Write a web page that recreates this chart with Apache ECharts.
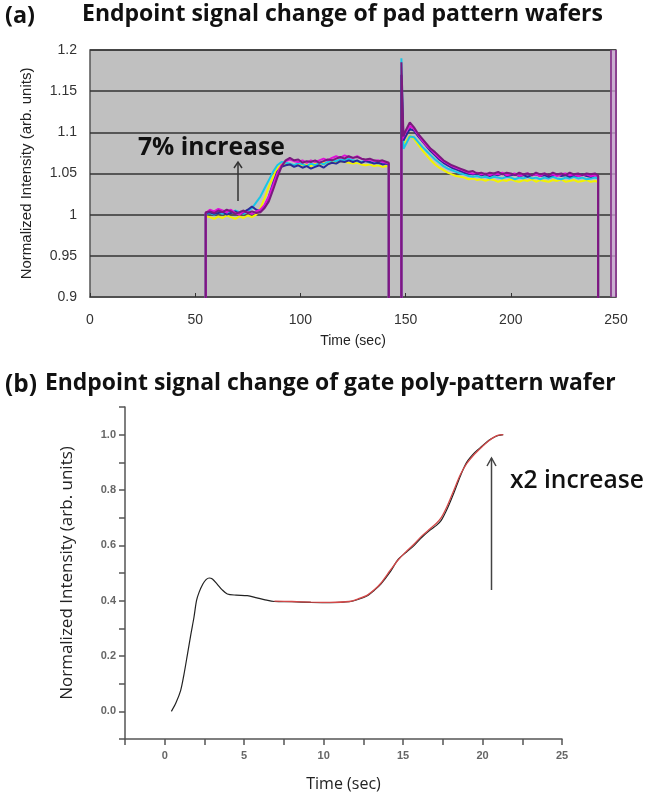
<!DOCTYPE html>
<html><head><meta charset="utf-8">
<script src="https://cdn.jsdelivr.net/npm/echarts@6/dist/echarts.min.js"></script>
<style>html,body{margin:0;padding:0;background:#fff;}#c{width:648px;height:801px;}</style>
</head><body><div id="c"></div>
<script>
// ---------- Panel (a) data ----------
const timeA = [55,55,57,59,61,63,65,67,69,71,73,75,77,79,81,83,85,87,89,91,93,
  95,97,99,101,103,105,107,109,111,113,115,117,119,121,123,125,127,129,131,133,135,137,139,141,
  142,142,148,148,149,
  150,152,154,156,158,160,162,164,166,168,170,172,174,176,178,180,182,184,186,188,190,192,194,196,198,
  200,202,204,206,208,210,212,214,216,218,220,222,224,226,228,230,232,234,236,238,240,241.5,241.5];

const yellowA = [0.85,0.998,0.997,0.995,0.998,0.996,0.999,0.997,0.995,0.998,0.996,0.999,0.997,1.000,
  1.008,1.020,1.034,1.046,1.056,1.061,1.062,
  1.061,1.059,1.062,1.060,1.061,1.059,1.062,1.060,1.063,1.062,1.064,1.063,1.065,1.064,1.063,1.062,1.063,1.061,1.060,1.061,1.059,1.060,1.058,1.059,
  1.058,0.85,0.85,1.13,1.085,
  1.088,1.096,1.092,1.085,1.078,1.072,1.066,1.061,1.057,1.054,1.051,1.049,1.047,1.046,1.045,1.043,1.044,1.042,1.043,1.041,1.043,1.042,1.040,1.042,1.041,
  1.043,1.041,1.040,1.042,1.041,1.043,1.040,1.042,1.041,1.040,1.042,1.041,1.043,1.040,1.041,1.042,1.040,1.041,1.042,1.040,1.041,1.040,0.85];

const cyanA = [0.85,1.001,1.002,1.000,1.003,1.001,1.004,1.002,1.005,1.003,1.001,1.004,1.008,1.015,
  1.022,1.032,1.042,1.052,1.060,1.064,1.063,
  1.062,1.060,1.063,1.061,1.059,1.062,1.060,1.063,1.061,1.064,1.066,1.065,1.067,1.066,1.068,1.066,1.065,1.064,1.066,1.063,1.064,1.062,1.063,1.062,
  1.060,0.85,0.85,1.19,1.08,
  1.085,1.095,1.094,1.088,1.082,1.077,1.072,1.067,1.063,1.059,1.056,1.054,1.052,1.050,1.049,1.047,1.046,1.047,1.045,1.046,1.044,1.046,1.045,1.044,1.046,
  1.045,1.043,1.045,1.044,1.046,1.044,1.045,1.043,1.045,1.044,1.046,1.044,1.043,1.045,1.044,1.046,1.044,1.045,1.043,1.044,1.045,1.044,0.85];

const navyA = [0.85,1.002,1.003,1.001,1.002,1.004,1.000,1.002,1.004,1.001,1.003,1.006,1.010,1.006,
  1.004,1.010,1.022,1.038,1.052,1.058,1.060,
  1.061,1.058,1.060,1.057,1.059,1.056,1.058,1.060,1.057,1.061,1.063,1.062,1.065,1.064,1.066,1.064,1.066,1.063,1.065,1.064,1.062,1.063,1.061,1.062,
  1.061,0.85,0.85,1.17,1.09,
  1.095,1.104,1.102,1.095,1.089,1.083,1.077,1.072,1.067,1.063,1.060,1.057,1.055,1.053,1.051,1.050,1.049,1.050,1.048,1.049,1.047,1.049,1.048,1.050,1.047,
  1.048,1.049,1.047,1.048,1.046,1.048,1.049,1.047,1.048,1.046,1.048,1.049,1.047,1.048,1.046,1.048,1.047,1.049,1.047,1.046,1.048,1.047,0.85];

const magentaA = [0.85,1.002,1.006,1.004,1.007,1.005,1.003,1.006,1.002,1.000,1.004,1.003,1.001,1.004,
  1.006,1.012,1.022,1.036,1.050,1.060,1.065,
  1.067,1.065,1.064,1.066,1.063,1.066,1.064,1.066,1.068,1.066,1.069,1.071,1.069,1.072,1.070,1.069,1.071,1.068,1.066,1.067,1.065,1.066,1.064,1.063,
  1.062,0.85,0.85,1.09,1.095,
  1.100,1.108,1.104,1.097,1.090,1.084,1.079,1.074,1.069,1.065,1.062,1.059,1.057,1.055,1.053,1.051,1.050,1.051,1.049,1.050,1.048,1.050,1.049,1.051,1.048,
  1.049,1.050,1.047,1.049,1.050,1.048,1.049,1.047,1.050,1.048,1.049,1.047,1.049,1.050,1.048,1.049,1.047,1.048,1.049,1.047,1.048,1.047,0.85];

const purpleA = [0.85,1.003,1.004,1.002,1.005,1.003,1.006,1.004,1.001,1.003,1.005,1.002,1.004,1.002,
  1.003,1.008,1.016,1.030,1.045,1.058,1.066,
  1.069,1.066,1.067,1.063,1.065,1.064,1.066,1.063,1.065,1.067,1.066,1.068,1.070,1.068,1.071,1.069,1.070,1.068,1.067,1.068,1.066,1.065,1.066,1.064,
  1.063,0.85,0.85,1.185,1.095,
  1.102,1.112,1.106,1.098,1.092,1.086,1.080,1.076,1.071,1.066,1.063,1.060,1.058,1.056,1.054,1.052,1.053,1.050,1.051,1.049,1.051,1.050,1.052,1.049,1.051,
  1.050,1.048,1.051,1.049,1.050,1.048,1.051,1.049,1.050,1.048,1.051,1.049,1.050,1.048,1.051,1.049,1.050,1.048,1.050,1.049,1.050,1.048,0.85];

const endBandA = [247.5, 250];

// ---------- Panel (b) data ----------
const timeBlack = [0.42,0.7,1.0,1.2,1.43,1.65,1.84,2.0,2.16,2.4,2.6,2.8,3.0,3.3,3.6,3.94,4.5,5.2,5.8,6.25,6.9,8,9.2,10.4,11.6,12.2,12.75,13.2,13.6,14.2,14.7,15.2,15.7,16.2,16.7,17.1,17.4,17.8,18.2,18.6,19.0,19.5,20.0,20.4,20.7,21.0,21.3];
const valBlack  = [0.0,0.03,0.075,0.13,0.206,0.28,0.34,0.40,0.43,0.46,0.476,0.482,0.478,0.46,0.44,0.424,0.42,0.418,0.41,0.404,0.397,0.396,0.394,0.393,0.396,0.405,0.418,0.438,0.46,0.505,0.55,0.575,0.60,0.63,0.655,0.672,0.69,0.735,0.79,0.85,0.90,0.935,0.96,0.98,0.99,0.997,1.0];
const timeRed = [6.9,8,9.2,10.4,11.6,12.2,12.75,13.2,13.6,14.2,14.7,15.2,15.7,16.2,16.7,17.1,17.4,17.8,18.2,18.6,19.0,19.5,20.0,20.4,20.7,21.0,21.3];
const valRed  = [0.398,0.397,0.395,0.394,0.397,0.407,0.42,0.44,0.463,0.51,0.548,0.578,0.605,0.635,0.66,0.68,0.70,0.745,0.80,0.855,0.895,0.93,0.958,0.978,0.99,0.998,1.0];

const titleA = 'Endpoint signal change of pad pattern wafers';
const titleB = 'Endpoint signal change of gate poly-pattern wafer';
const noteA = '7% increase';
const noteB = 'x2 increase';
const yName = 'Normalized Intensity (arb. units)';
const xName = 'Time (sec)';

function zip(xs, ys){ return xs.map((x,i)=>[x, ys[i]]); }
function fit(text, weight, family, target){
  const ctx = document.createElement('canvas').getContext('2d');
  ctx.font = weight + ' 100px ' + family;
  return 100 * target / ctx.measureText(text).width;
}
const TF = '"Open Sans", sans-serif';

const chart = echarts.init(document.getElementById('c'), null, {renderer:'canvas'});

function lineA(name, data, color, extra){
  return Object.assign({
    name, type:'line', xAxisIndex:0, yAxisIndex:0, data: zip(timeA, data),
    showSymbol:false, symbol:'none', lineStyle:{color, width:2}, itemStyle:{color},
    clip:true, animation:false, z:3
  }, extra||{});
}

const option = {
  animation:false,
  backgroundColor:'#ffffff',
  grid:[
    {left:90, top:50, width:526, height:247, show:true, backgroundColor:'#c0c0c0', borderColor:'#555', borderWidth:1.5},
    {left:125, top:407, width:437, height:332, show:false}
  ],
  xAxis:[
    {gridIndex:0, type:'value', min:0, max:250, interval:50,
     axisLine:{show:true, lineStyle:{color:'#555', width:1.5}},
     axisTick:{show:true, inside:true, length:4, lineStyle:{color:'#333'}},
     splitLine:{show:false},
     axisLabel:{color:'#333', fontSize:14, fontFamily:'"Liberation Sans", Arial', margin:16},
     name:xName, nameLocation:'middle', nameGap:37,
     nameTextStyle:{color:'#222', fontSize:14, fontFamily:'"Liberation Sans", Arial'}},
    {gridIndex:1, type:'value', min:-2.5, max:25, interval:2.5,
     axisLine:{show:true, onZero:false, lineStyle:{color:'#555', width:1.5}},
     axisTick:{show:true, inside:false, length:6, lineStyle:{color:'#555', width:1.5}},
     splitLine:{show:false},
     axisLabel:{color:'#666', fontSize:11, fontWeight:'bold', fontFamily:'"Liberation Sans", Arial', margin:11,
       formatter:v=>{ const r=Math.round(v*10)/10; return (r>=0 && Math.abs(r%5)<1e-6) ? String(Math.round(r)) : ''; }},
     name:xName, nameLocation:'middle', nameGap:37,
     nameTextStyle:{color:'#222', fontSize:16, fontFamily:'"Open Sans", sans-serif'}}
  ],
  yAxis:[
    {gridIndex:0, type:'value', min:0.9, max:1.2, interval:0.05,
     axisLine:{show:false}, axisTick:{show:false},
     splitLine:{show:true, lineStyle:{color:'#333', width:1.5}},
     axisLabel:{color:'#333', fontSize:14, fontFamily:'"Liberation Sans", Arial', margin:13},
     name:yName, nameLocation:'middle', nameGap:56,
     nameTextStyle:{color:'#222', fontSize:15, fontFamily:'"Liberation Sans", Arial'}},
    {gridIndex:1, type:'value', min:-0.1, max:1.1, interval:0.1,
     axisLine:{show:true, onZero:false, lineStyle:{color:'#555', width:1.5}},
     axisTick:{show:true, inside:false, length:6, lineStyle:{color:'#555', width:1.5}},
     splitLine:{show:false},
     axisLabel:{color:'#666', fontSize:11, fontWeight:'bold', fontFamily:'"Liberation Sans", Arial', margin:9,
       formatter:v=>{ const k=Math.round(v*10); return (k>=0 && k<=10 && k%2===0) ? (k/10).toFixed(1) : ''; }},
     name:yName, nameLocation:'middle', nameGap:49,
     nameTextStyle:{color:'#222', fontSize:17, fontFamily:'"Open Sans", sans-serif'}}
  ],
  series:[
    lineA('yellow', yellowA, '#f2f200'),
    lineA('cyan', cyanA, '#19c6e6'),
    lineA('navy', navyA, '#2a2a9a'),
    lineA('magenta', magentaA, '#e010d8'),
    lineA('purple', purpleA, '#7a1a7e', {
      markArea:{silent:true, itemStyle:{color:'rgba(205,170,215,0.75)'}, data:[[{xAxis:endBandA[0]},{xAxis:endBandA[1]}]]},
      markLine:{silent:true, symbol:'none', label:{show:false}, lineStyle:{color:'#8a3a8e', width:1.8, type:'solid'},
        data:endBandA.map(v=>({xAxis:v}))}
    }),
    {name:'red', type:'line', xAxisIndex:1, yAxisIndex:1, data:zip(timeRed, valRed), smooth:0.3,
     showSymbol:false, symbol:'none', lineStyle:{color:'#d24848', width:1.3}, z:3},
    {name:'black', type:'line', xAxisIndex:1, yAxisIndex:1, data:zip(timeBlack, valBlack), smooth:0.3,
     showSymbol:false, symbol:'none', lineStyle:{color:'#222', width:1.2}, z:2}
  ],
  graphic:[
    {type:'text', left:5, top:5, style:{text:'(a)', fill:'#111', font:'bold '+fit('(a)','bold',TF,30).toFixed(1)+'px '+TF}},
    {type:'text', left:82, top:3, style:{text:titleA, fill:'#111', font:'bold '+fit(titleA,'bold',TF,522).toFixed(1)+'px '+TF}},
    {type:'text', left:5, top:373, style:{text:'(b)', fill:'#111', font:'bold '+fit('(b)','bold',TF,32).toFixed(1)+'px '+TF}},
    {type:'text', left:45, top:372, style:{text:titleB, fill:'#111', font:'bold '+fit(titleB,'bold',TF,572).toFixed(1)+'px '+TF}},
    {type:'text', left:138, top:135, z:10, style:{text:noteA, fill:'#111', font:'bold '+fit(noteA,'bold',TF,147).toFixed(1)+'px '+TF}},
    {type:'text', left:510, top:468, z:10, style:{text:noteB, fill:'#111', font:'600 '+fit(noteB,'600',TF,134).toFixed(1)+'px '+TF}},
    {type:'line', z:10, shape:{x1:238, y1:201, x2:238, y2:162}, style:{stroke:'#333', lineWidth:1.5}},
    {type:'polyline', z:10, shape:{points:[[234,168],[238,162],[242,168]]}, style:{stroke:'#333', lineWidth:1.5, fill:null}},
    {type:'line', z:10, shape:{x1:491.5, y1:590, x2:491.5, y2:458}, style:{stroke:'#444', lineWidth:1.5}},
    {type:'polyline', z:10, shape:{points:[[487,466],[491.5,458],[496,466]]}, style:{stroke:'#444', lineWidth:1.5, fill:null}}
  ]
};
chart.setOption(option);
</script>
</body></html>
